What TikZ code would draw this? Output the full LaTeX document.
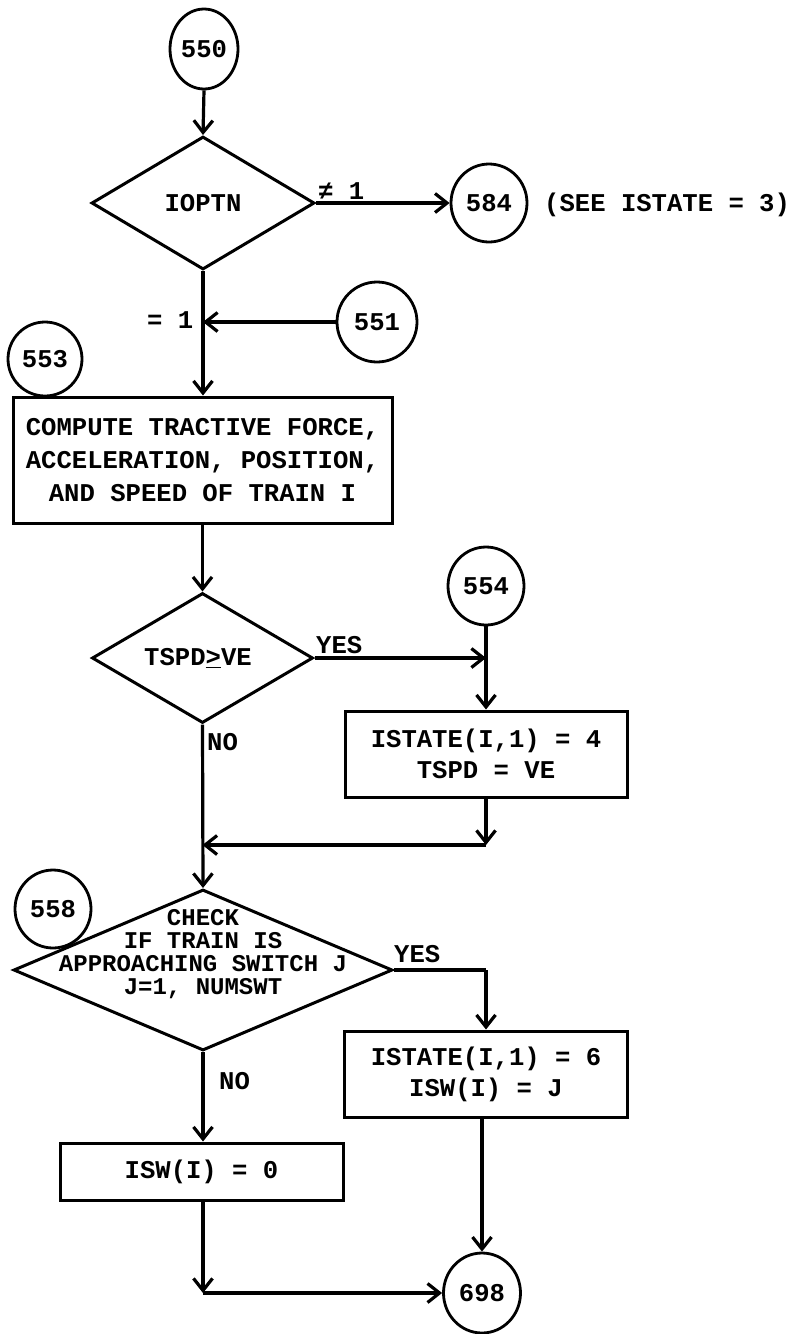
\documentclass[tikz,border=0pt]{standalone}
\usepackage{fontspec}
\setmainfont{Liberation Mono}
\usetikzlibrary{arrows.meta,shapes.geometric}
\tikzset{
  every node/.style={font=\bfseries\fontsize{25.6}{31}\selectfont},
  ln/.style={line width=3.2pt},
  arr/.style={ln,-{Straight Barb[length=12pt,width=19pt]}},
  conn/.style={ellipse,draw,line width=2.8pt,minimum width=76pt,minimum height=78pt,inner sep=0pt},
  dec/.style={diamond,draw,line width=3pt,inner sep=0pt},
  box/.style={rectangle,draw,line width=3pt,align=center,inner sep=0pt},
  lbl/.style={anchor=base west,inner sep=0pt},
}
\begin{document}
\begin{tikzpicture}[x=1pt,y=-1pt]
\useasboundingbox (0,0) rectangle (792,1334);
\fill[white] (0,0) rectangle (792,1334);
% nodes
\node[conn,minimum width=68pt,minimum height=80pt] (c550) at (204,49) {550};
\node[dec,minimum width=223pt,minimum height=133pt] (d1) at (203,203) {};
\node (t1) at (d1.center) {IOPTN};
\node[lbl] (ne1) at (318,199) {≠ 1};
\node[conn] (c584) at (489,203) {584};
\node[anchor=west,inner sep=0pt] (see) at (544,205) {(SEE ISTATE = 3)};
\coordinate (j1) at (203,322);
\node[conn,minimum width=80pt,minimum height=80pt] (c551) at (377,322) {551};
\node[lbl] (eq1) at (147,328) {= 1};
\node[conn,minimum width=74pt,minimum height=74pt] (c553) at (45,359) {553};
\node[box,minimum width=379pt,minimum height=126pt,font=\bfseries\fontsize{25.6}{33}\selectfont] (b1) at (202.5,460)
  {COMPUTE TRACTIVE FORCE,\\ACCELERATION, POSITION,\\AND SPEED OF TRAIN I};
\node[dec,minimum width=221pt,minimum height=130pt] (d2) at (202.5,658) {};
\node (t2) at (198,658) {TSPD\underline{>}VE};
\node[lbl] (yes1) at (316,653) {YES};
\node[conn] (c554) at (486,586) {554};
\coordinate (j2) at (486,658);
\node[lbl] (no1) at (207,750) {NO};
\node[box,minimum width=282pt,minimum height=86pt] (b2) at (486,754) {ISTATE(I,1) = 4\\TSPD = VE};
\coordinate (k1) at (486,845);
\coordinate (j3) at (202.5,845);
\node[conn] (c558) at (53,909) {558};
\node[dec,minimum width=379pt,minimum height=161pt] (d3) at (203,970) {};
\node[align=center,inner sep=0pt,font=\bfseries\fontsize{24}{23}\selectfont] (t3) at (203,954)
  {CHECK\\IF TRAIN IS\\APPROACHING SWITCH J\\J=1, NUMSWT};
\node[lbl] (yes2) at (394,962) {YES};
\coordinate (k2) at (486,970);
\node[box,minimum width=283pt,minimum height=86pt] (b3) at (486,1074) {ISTATE(I,1) = 6\\ISW(I) = J};
\node[lbl] (no2) at (219,1089) {NO};
\node[box,minimum width=283pt,minimum height=57pt] (b4) at (201.5,1171.5) {ISW(I) = 0};
\coordinate (k3) at (203,1293);
\node[conn,minimum width=77pt,minimum height=80pt] (c698) at (482,1293) {698};
% connectors
\draw[arr] (c550.south) -- (d1.north);
\draw[arr] (d1.east) -- (c584.west);
\draw[ln] (d1.south) -- (j1);
\draw[arr] (c551.west) -- (j1);
\draw[arr] (j1) -- (j1 |- b1.north);
\draw[arr] (b1.south) -- (d2.north);
\draw[arr] (d2.east) -- (j2);
\draw[arr] (c554.south) -- (b2.north);
\draw[arr] (b2.south) -- (k1);
\draw[arr] (k1) -- (j3);
\draw[arr] (d2.south) -- (d3.north);
\draw[ln] (d3.east) -- (k2);
\draw[arr] (k2) -- (k2 |- b3.north);
\draw[arr] (d3.south) -- (d3.south |- b4.north);
\draw[arr] (b3.south -| c698) -- (c698.north);
\draw[arr] (b4.south -| k3) -- (k3);
\draw[arr] (k3) -- (c698.west);
\end{tikzpicture}
\end{document}
